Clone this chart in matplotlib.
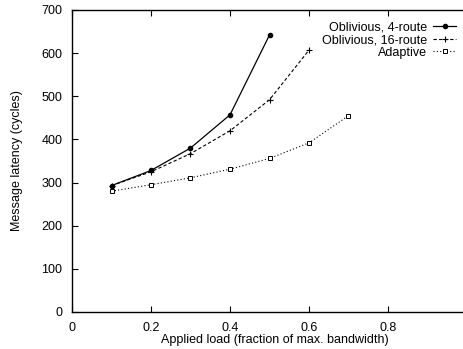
import matplotlib
matplotlib.use("Agg")
import matplotlib.pyplot as plt

plt.rcParams["font.family"] = ["Liberation Sans", "DejaVu Sans"]
plt.rcParams["font.size"] = 9

load_4 = [0.1, 0.2, 0.3, 0.4, 0.5]
lat_4 = [293, 328, 380, 457, 642]
load_16 = [0.1, 0.2, 0.3, 0.4, 0.5, 0.6]
lat_16 = [293, 325, 367, 420, 492, 607]
load_ad = [0.1, 0.2, 0.3, 0.4, 0.5, 0.6, 0.7]
lat_ad = [280, 295, 311, 331, 356, 392, 455]

fig = plt.figure(figsize=(4.64, 3.49), dpi=100)
ax = fig.add_axes([72 / 464, (349 - 312) / 349, 405 / 464, 302 / 349])

ax.plot(load_4, lat_4, color="black", linestyle="-", linewidth=0.9,
        marker="o", markersize=3, label="Oblivious, 4-route")
ax.plot(load_16, lat_16, color="black", linestyle=(0, (3, 2)), linewidth=0.8,
        marker="+", markersize=4, markeredgewidth=0.8, label="Oblivious, 16-route")
ax.plot(load_ad, lat_ad, color="black", linestyle=(0, (1, 2)), linewidth=0.8,
        marker="s", markersize=3.5, markerfacecolor="white", markeredgewidth=0.7,
        label="Adaptive")

# x extent chosen so 0.1 units ~ 39.5 px, right edge falls off the canvas
ax.set_xlim(0, 405 / 395)
ax.set_ylim(0, 700)
ax.set_xticks([0, 0.2, 0.4, 0.6, 0.8])
ax.set_xticklabels(["0", "0.2", "0.4", "0.6", "0.8"])
ax.set_yticks(range(0, 701, 100))
ax.tick_params(direction="in", top=True, right=False, length=4, width=0.8, pad=7)
for s in ax.spines.values():
    s.set_linewidth(1.0)

ax.set_xlabel("Applied load (fraction of max. bandwidth)", labelpad=0)
ax.set_ylabel("Message latency (cycles)", labelpad=13)

ax.legend(loc="upper right", bbox_to_anchor=(0.948, 0.962), frameon=False,
          markerfirst=False, handlelength=1.8, handletextpad=0.5,
          labelspacing=0.05, borderpad=0, borderaxespad=0, fontsize=9)

fig.savefig("out.png", dpi=100)
